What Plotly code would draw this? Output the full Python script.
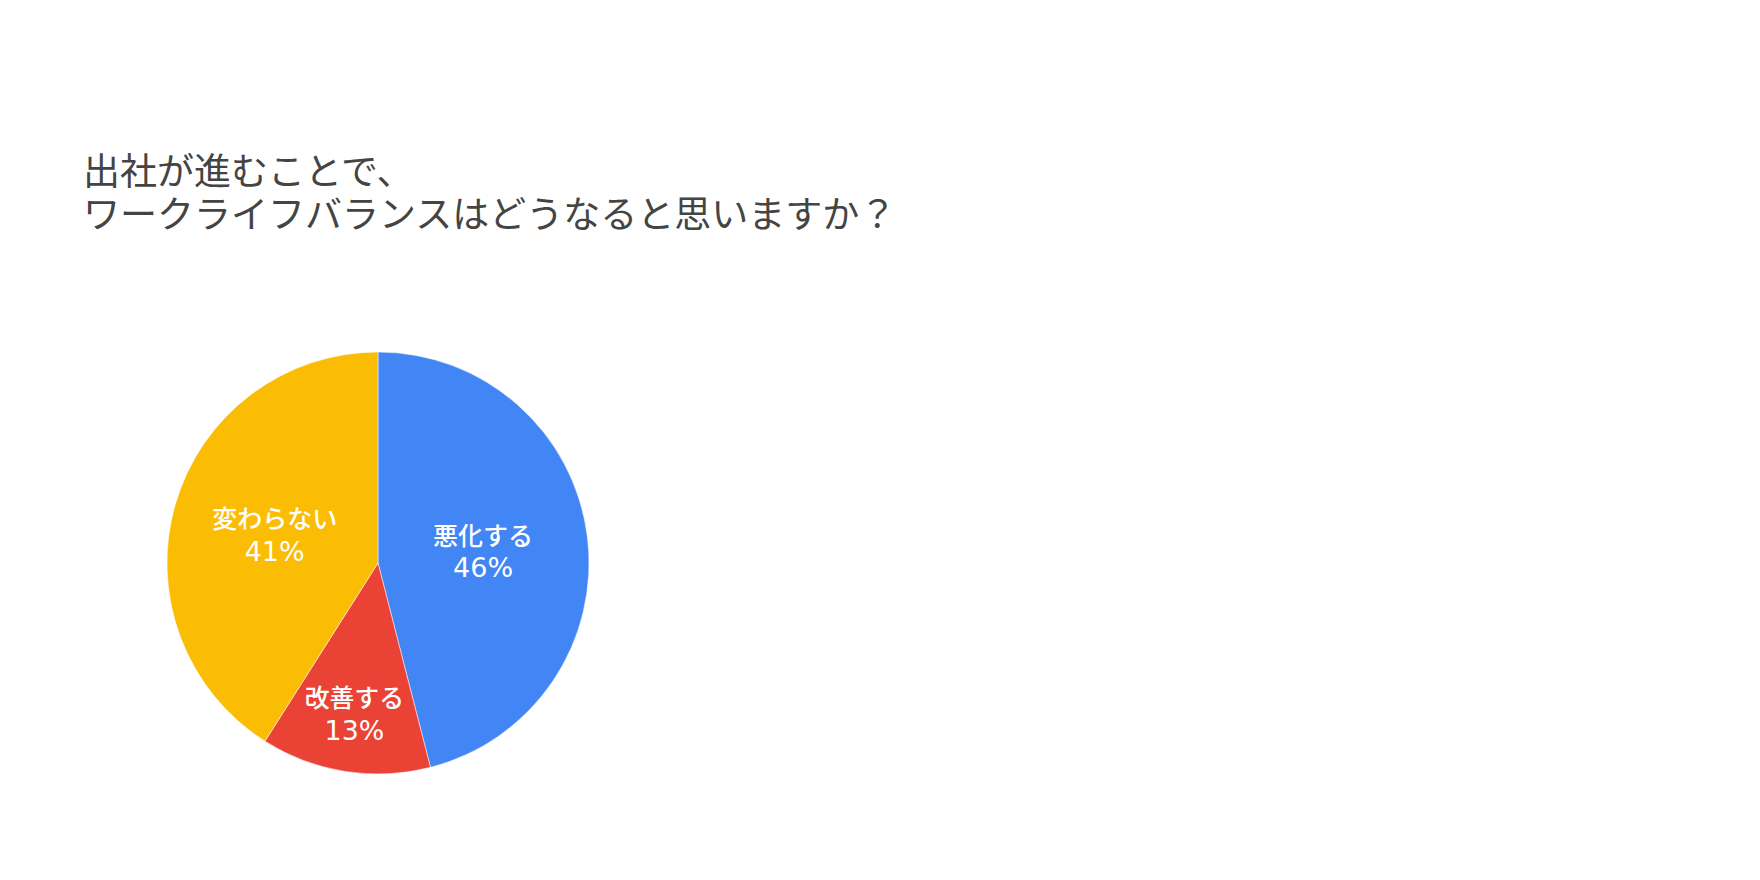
import plotly.graph_objects as go

# 回答データ（％）
labels = ["悪化する", "改善する", "変わらない"]
values = [46, 13, 41]
colors = ["#4285F4", "#EA4335", "#FBBC04"]

title_lines = ["出社が進むことで、", "ワークライフバランスはどうなると思いますか？"]

W, H = 1760, 880
FONT = "Noto Sans CJK JP"

# 円の中心と半径（ピクセル）
cx, cy, r = 370, 555, 211

fig = go.Figure()
fig.add_trace(go.Pie(
    labels=labels,
    values=values,
    marker=dict(colors=colors, line=dict(color="white", width=0.5)),
    sort=False,
    direction="clockwise",
    rotation=0,
    texttemplate="%{label}<br><span style='font-family:DejaVu Sans;font-size:27px'>%{percent:.0%}</span>",
    textposition="inside",
    insidetextorientation="horizontal",
    insidetextfont=dict(family=FONT, size=25, color="white", weight=500),
    hoverinfo="label+percent",
    domain=dict(x=[(cx - r) / W, (cx + r) / W],
                y=[(H - cy - r) / H, (H - cy + r) / H]),
))

# タイトル（2行）
for i, line in enumerate(title_lines):
    fig.add_annotation(
        text=line,
        xref="paper", yref="paper",
        x=73 / W, y=1 - (161 + 43 * i) / H,
        xanchor="left", yanchor="middle",
        showarrow=False,
        font=dict(family=FONT, size=37, color="#444444"),
    )

fig.update_layout(
    width=W, height=H,
    margin=dict(l=0, r=0, t=0, b=0),
    paper_bgcolor="white",
    plot_bgcolor="white",
    showlegend=False,
    font=dict(family=FONT),
)

fig.write_html("out.html")
